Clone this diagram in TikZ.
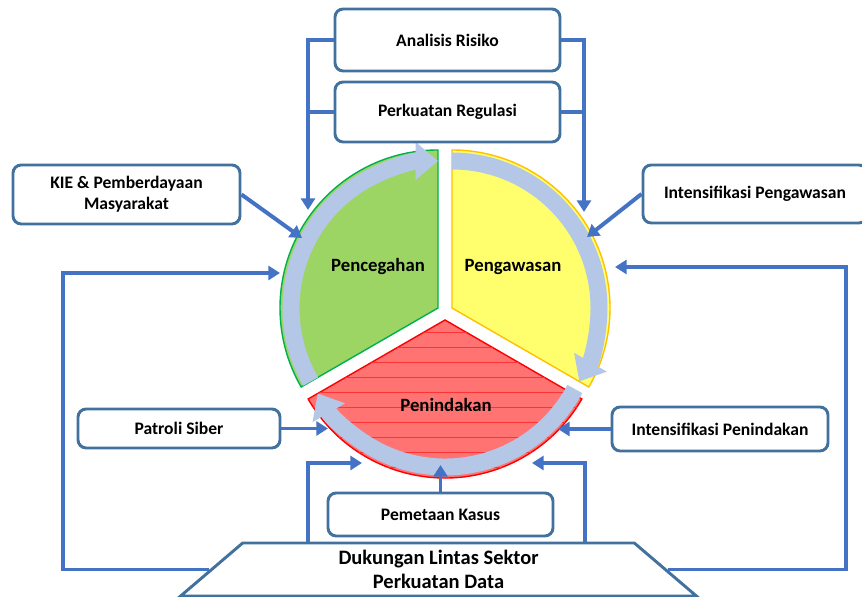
\documentclass[tikz,border=0pt]{standalone}
\usepackage{fontspec}
\setmainfont{Carlito}
\usepackage{xcolor}
\usepackage{tikz}
\usetikzlibrary{arrows.meta,shapes.geometric,calc}

\definecolor{linkblue}{HTML}{4472C4}
\definecolor{boxblue}{HTML}{41719C}
\definecolor{ringblue}{HTML}{B4C7E7}
\definecolor{greenfill}{HTML}{9DD564}
\definecolor{greenline}{HTML}{00B050}
\definecolor{yellowfill}{HTML}{FFFF6E}
\definecolor{yellowline}{HTML}{FFC000}
\definecolor{redfill}{HTML}{FF7373}
\definecolor{redline}{HTML}{FF0000}

\tikzset{
    box/.style={draw=boxblue, line width=2.5pt, rounded corners=7pt, fill=white,
        align=center, inner sep=0pt, font=\fontsize{15}{18}\selectfont\bfseries},
    link/.style={linkblue, line width=3.4pt, -{Triangle[width=12pt,length=10pt]}},
    joint/.style={linkblue, line width=3.4pt},
    band/.style={ringblue, line width=14.5pt, -{Triangle[width=31pt,length=19pt]}},
    phase/.style={font=\fontsize{16}{18}\selectfont\bfseries},
}

\begin{document}
\begin{tikzpicture}[x=0.03cm,y=0.03cm]
    \useasboundingbox (0,0) rectangle (862,597);
    \clip (0,0) rectangle (862,597);

    % the three phases
    \coordinate (gC) at (438,289);
    \coordinate (yC) at (452,289);
    \coordinate (rC) at (445,277);
    \filldraw[fill=greenfill, draw=greenline, line width=1.2pt]
        (gC) -- ++(90:158) arc[start angle=90, end angle=210, radius=158] -- cycle;
    \filldraw[fill=yellowfill, draw=yellowline, line width=1.2pt]
        (yC) -- ++(90:158) arc[start angle=90, end angle=-30, radius=158] -- cycle;
    \filldraw[fill=redfill, draw=redline, line width=1.2pt]
        (rC) -- ++(210:158) arc[start angle=210, end angle=330, radius=158] -- cycle;
    \begin{scope}
        \clip (rC) -- ++(210:158) arc[start angle=210, end angle=330, radius=158] -- cycle;
        \foreach \y in {265,250,...,115}
            \draw[redline!80, line width=0.6pt] (280,\y) -- (610,\y);
    \end{scope}
    \draw[band] ($(gC)+(210:147)$) arc[start angle=210, end angle=90, radius=147];
    \draw[band] ($(yC)+(90:147)$) arc[start angle=90, end angle=-30, radius=147];
    \draw[band] ($(rC)+(-28:147)$) arc[start angle=-28, end angle=-150, radius=147];

    \node[phase] (pcg) at (378,330) {Pencegahan};
    \node[phase] (pgw) at (513,330) {Pengawasan};
    \node[phase] (pnd) at (446,192) {Penindakan};

    % boxes
    \node[box, minimum width=6.75cm, minimum height=1.86cm] (risk) at (447.5,557) {Analisis Risiko};
    \node[box, minimum width=6.75cm, minimum height=1.8cm] (reg) at (447.5,485) {Perkuatan Regulasi};
    \node[box, minimum width=6.81cm, minimum height=1.77cm] (kie) at (126.5,402.5) {KIE \& Pemberdayaan\\Masyarakat};
    \node[box, minimum width=6.72cm, minimum height=1.74cm] (intpeng) at (755,403) {Intensifikasi Pengawasan};
    \node[box, minimum width=6.06cm, minimum height=1.17cm] (patroli) at (179,168.5) {Patroli Siber};
    \node[box, minimum width=6.48cm, minimum height=1.32cm] (intpen) at (720,168) {Intensifikasi Penindakan};
    \node[box, minimum width=6.75cm, minimum height=1.29cm] (pemetaan) at (440.5,82.5) {Pemetaan Kasus};
    \node[trapezium, draw=boxblue, line width=2.5pt, fill=white, align=center, inner sep=0pt,
        trapezium left angle=51, trapezium right angle=51, trapezium stretches=true,
        minimum width=15.5cm, minimum height=1.59cm,
        font=\fontsize{17.5}{21}\selectfont\bfseries] (dukungan) at (438.5,27.5)
        {Dukungan Lintas Sektor\\Perkuatan Data};

    % arrow ends on the ring
    \coordinate (tipTL) at (308,387);
    \coordinate (tipTR) at (584,385);
    \coordinate (tipKIE) at (302,359);
    \coordinate (tipIP) at (587,360);
    \coordinate (cornerL) at (63,324);
    \coordinate (tipLL) at (280,324);
    \coordinate (cornerR) at (846,330);
    \coordinate (tipLR) at (615,330);
    \coordinate (tipPS) at (328,168.5);
    \coordinate (tipIPen) at (558,168);
    \coordinate (tipPem) at (440.5,132);
    \coordinate (tipBL) at (362,134);
    \coordinate (tipBR) at (532,134);

    % connectors
    \draw[link] (risk.west) -| (tipTL);
    \draw[joint] (reg.west) -- (reg.west -| tipTL);
    \draw[link] (risk.east) -| (tipTR);
    \draw[joint] (reg.east) -- (reg.east -| tipTR);
    \draw[link] (kie.east) -- (tipKIE);
    \draw[link] (intpeng.west) -- (tipIP);
    \draw[link] (dukungan.west) -| (cornerL) -- (tipLL);
    \draw[link] (dukungan.east) -| (cornerR) -- (tipLR);
    \draw[link] (patroli) -- (tipPS);
    \draw[link] (intpen) -- (tipIPen);
    \draw[link] (pemetaan) -- (tipPem);
    \draw[link] ($(dukungan.north)+(-130.5,0)$) |- (tipBL);
    \draw[link] ($(dukungan.north)+(146.5,0)$) |- (tipBR);
\end{tikzpicture}
\end{document}
